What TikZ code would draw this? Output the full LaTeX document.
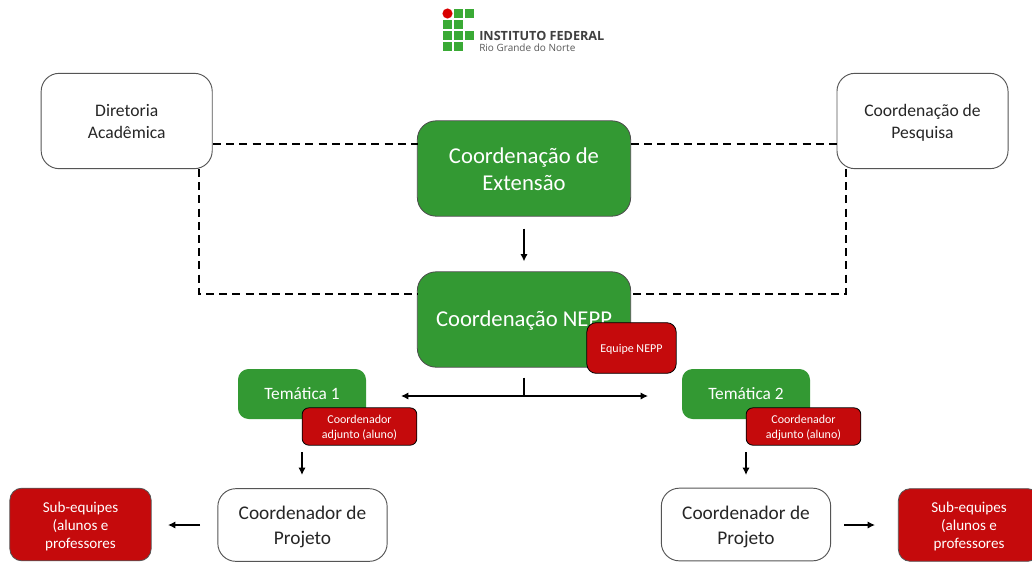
\documentclass[tikz,border=0pt]{standalone}
\usetikzlibrary{arrows.meta}
\usepackage{fontspec}
\setmainfont{Carlito}
\newfontfamily\logofont{Open Sans}
\definecolor{grn}{HTML}{339933}
\definecolor{redb}{HTML}{C50A0C}
\definecolor{logog}{HTML}{3AAA35}
\definecolor{edgeg}{HTML}{555555}
\newcommand\pushdown[1]{\rule{0pt}{#1em}}
\begin{document}
\begin{tikzpicture}[x=0.75pt,y=-0.75pt,
  whitebox/.style={draw=edgeg,line width=0.7pt,fill=white,text=black!85,rounded corners=13.5pt,inner sep=0pt,align=center},
  greenbig/.style={draw=black!70,line width=0.6pt,fill=grn,text=white,rounded corners=14pt,inner sep=0pt,align=center,font=\fontsize{17}{20.3}\selectfont},
  greensmall/.style={fill=grn,text=white,rounded corners=8pt,inner sep=0pt,align=center,font=\fontsize{13}{15}\selectfont},
  redbox/.style={draw=black,line width=0.6pt,fill=redb,text=white,rounded corners=5pt,inner sep=0pt,align=center,font=\fontsize{9}{11}\selectfont},
  redlarge/.style={draw=edgeg,line width=0.6pt,fill=redb,text=white,rounded corners=9pt,inner sep=0pt,align=center,font=\fontsize{11.3}{13.5}\selectfont},
  link/.style={black,line width=0.95pt,dash pattern=on 6pt off 3.9pt},
  flow/.style={black,line width=1.4pt,-{Latex[length=5.5pt,width=5.5pt]}},
  logosq/.style={fill=logog,minimum size=6.9pt,inner sep=0pt,anchor=north west}
]
\useasboundingbox (0,0) rectangle (1032,562);
\fill[white] (0,0) rectangle (1032,562);
% logo
\foreach \n/\px/\py in {a/453.5/9,b/464.5/9,c/443/20,d/453.5/20,e/443/31,f/453.5/31,g/464.5/31,h/443/42,i/453.5/42}
  \node[logosq] (logo\n) at (\px,\py) {};
\fill[red!85!black] (447.5,13.5) circle[radius=3.8pt];
\node[anchor=west,inner sep=0pt,text=black!75,font=\logofont\bfseries\fontsize{9.5}{11}\selectfont] (logot) at (479,35.5) {INSTITUTO FEDERAL};
\node[anchor=west,inner sep=0pt,text=black!65,font=\logofont\fontsize{7.5}{9}\selectfont] (logos) at (479,47.5) {Rio Grande do Norte};
% top row
\node[whitebox,minimum width=128.3pt,minimum height=71.5pt,font=\fontsize{13.2}{16.5}\selectfont] (dir) at (126.7,121) {\pushdown{.75}Diretoria\\Acadêmica};
\node[whitebox,minimum width=128.3pt,minimum height=71.5pt,font=\fontsize{13.2}{16.5}\selectfont] (pesq) at (922.5,121) {\pushdown{.9}Coordenação de\\Pesquisa};
\node[greenbig,minimum width=160pt,minimum height=71.5pt] (ext) at (524,168.5) {\pushdown{.74}Coordenação de\\Extensão};
\node[greenbig,minimum width=160pt,minimum height=71.5pt] (nepp) at (524,319.5) {\pushdown{.82}Coordenação NEPP};
\node[redbox,minimum width=67pt,minimum height=38pt,rounded corners=7pt] (equipe) at (631.5,348) {\pushdown{.9}Equipe NEPP};
% themes
\node[greensmall,minimum width=96pt,minimum height=37.5pt] (t1) at (302,394) {Temática 1};
\node[greensmall,minimum width=96pt,minimum height=37.5pt] (t2) at (746,394) {Temática 2};
\node[redbox,minimum width=86pt,minimum height=28pt] (a1) at (359.5,426.5) {\pushdown{.9}Coordenador\\adjunto (aluno)};
\node[redbox,minimum width=86pt,minimum height=28pt] (a2) at (803.5,426.5) {\pushdown{.9}Coordenador\\adjunto (aluno)};
% bottom
\node[whitebox,minimum width=127pt,minimum height=54.5pt,font=\fontsize{14.5}{18.75}\selectfont] (c1) at (302.5,525) {\pushdown{.93}Coordenador de\\Projeto};
\node[whitebox,minimum width=127pt,minimum height=54.5pt,font=\fontsize{14.5}{18.75}\selectfont] (c2) at (746,524.5) {\pushdown{.93}Coordenador de\\Projeto};
\node[redlarge,minimum width=106pt,minimum height=54.5pt] (s1) at (80.5,524.5) {\pushdown{.9}Sub-equipes\\(alunos e\\professores};
\node[redlarge,minimum width=106pt,minimum height=54.5pt] (s2) at (969,525) {\pushdown{.9}Sub-equipes\\(alunos e\\professores};
% dashed links
\coordinate (d1) at (213,144);\coordinate (d2) at (418,144);
\coordinate (d3) at (631,144);\coordinate (d4) at (837,144);
\coordinate (d5) at (199,169);\coordinate (d6) at (199,294);\coordinate (d7) at (418,294);
\coordinate (d8) at (846,169);\coordinate (d9) at (846,294);\coordinate (d10) at (632,294);
\draw[link] (d1) -- (d2);
\draw[link] (d3) -- (d4);
\draw[link] (d5) -- (d6) -- (d7);
\draw[link] (d8) -- (d9) -- (d10);
% flows
\draw[flow,shorten <=9pt,shorten >=7.5pt] (ext.south) -- (nepp.north);
\coordinate (junc) at (524,396);
\coordinate (jl) at (401,396);
\coordinate (jr) at (648,396);
\draw[black,line width=1.4pt,shorten <=7.5pt] (nepp.south) -- (junc);
\draw[flow] (junc) -- (jl);
\draw[flow] (junc) -- (jr);
\coordinate (v1a) at (302,452);\coordinate (v1b) at (302,475);
\coordinate (v2a) at (746,452);\coordinate (v2b) at (746,475);
\draw[flow] (v1a) -- (v1b);
\draw[flow] (v2a) -- (v2b);
\coordinate (h1a) at (200,525);\coordinate (h1b) at (168,525);
\coordinate (h2a) at (844,525);\coordinate (h2b) at (875,525);
\draw[flow] (h1a) -- (h1b);
\draw[flow] (h2a) -- (h2b);
\end{tikzpicture}
\end{document}
